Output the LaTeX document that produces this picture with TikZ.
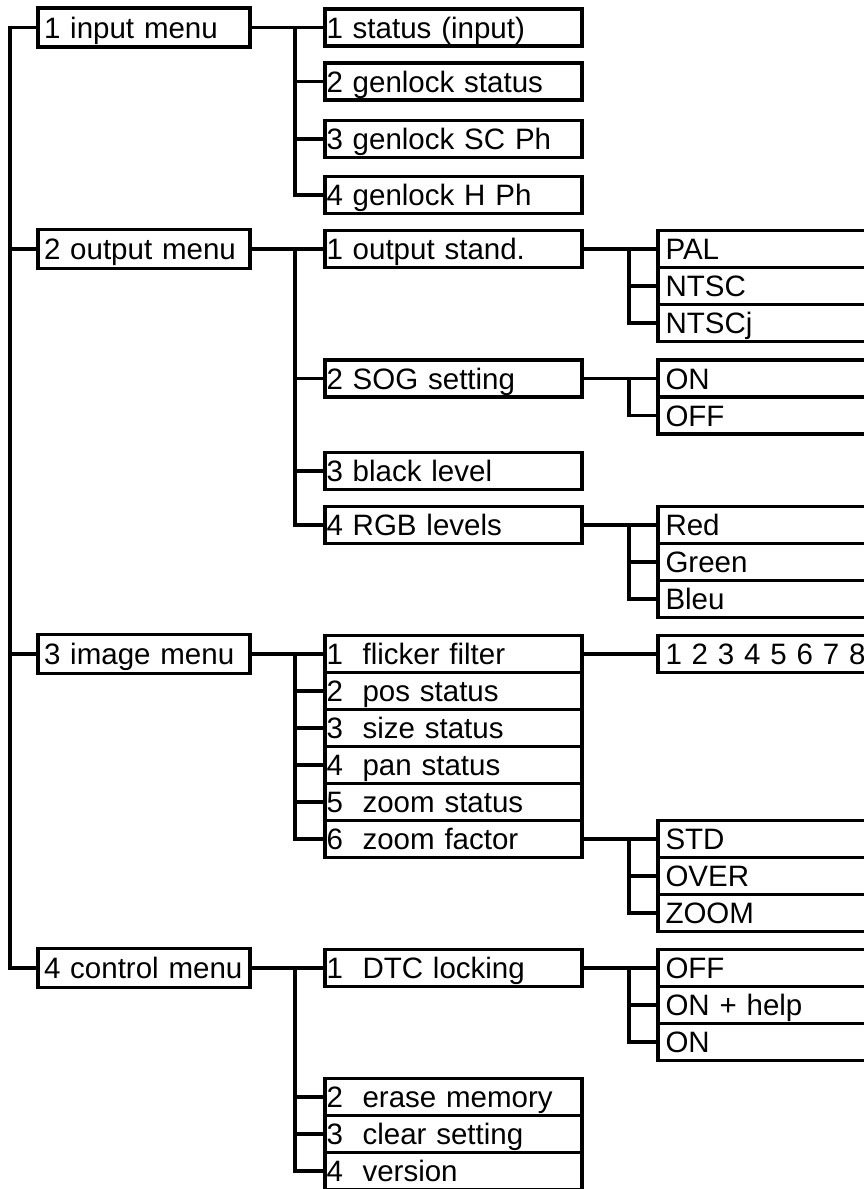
\documentclass[tikz,border=0pt]{standalone}
\usepackage{fontspec}
\setmainfont{Liberation Sans}
\usetikzlibrary{positioning}

\begin{document}
\begin{tikzpicture}[
  x=1pt, y=-1pt,
  line width=3.3pt,
  every node/.style={draw, outer sep=0pt, anchor=west, align=left,
    font=\fontsize{29.5}{32}\selectfont, text height=21pt, text depth=0pt,
    minimum height=37pt},
  menu/.style={minimum height=39pt, inner xsep=6pt, text width=200pt},
  item/.style={inner xsep=1.5pt, text width=254pt},
  opt/.style={inner xsep=7.5pt, text width=235pt},
  node distance=0pt
]
\useasboundingbox (0,0) rectangle (864,1189);
\clip (0,0) rectangle (864,1189);

\coordinate (t0) at (10,0);
\coordinate (t1) at (295,0);
\coordinate (t2) at (629,0);

% main menus
\node[menu] (inp)  at (38,27.5) {1 input~menu};
\node[menu] (outp) at (38,249)  {2 output~menu};
\node[menu] (img)  at (38,654)  {3 image~menu};
\node[menu] (ctl)  at (38,968)  {4 control~menu};

% input menu
\node[item] (in1) at (325,27.5) {1 status (input)};
\node[item] (in2) at (325,81.5) {2 genlock status};
\node[item] (in3) at (325,139)  {3 genlock SC Ph};
\node[item] (in4) at (325,195)  {4 genlock H Ph};

% output menu
\node[item] (out1) at (325,249) {1 output stand.};
\node[item] (out2) at (325,378.5) {2 SOG setting};
\node[item] (out3) at (325,471) {3 black level};
\node[item] (out4) at (325,525) {4 RGB levels};

\node[opt] (pal) at (658,249) {PAL};
\node[opt, below=of pal] (ntsc) {NTSC};
\node[opt, below=of ntsc] (ntscj) {NTSCj};
\node[opt] (son) at (658,378.5) {ON};
\node[opt, below=of son] (soff) {OFF};
\node[opt] (red) at (658,525) {Red};
\node[opt, below=of red] (green) {Green};
\node[opt, below=of green] (bleu) {Bleu};

% image menu
\node[item] (im1) at (325,654) {1~~flicker filter};
\node[item, below=of im1] (im2) {2~~pos status};
\node[item, below=of im2] (im3) {3~~size status};
\node[item, below=of im3] (im4) {4~~pan status};
\node[item, below=of im4] (im5) {5~~zoom status};
\node[item, below=of im5] (im6) {6~~zoom factor};

\node[opt] (ff) at (658,654) {1 2 3 4 5 6 7 8};
\node[opt] (std) at (658,839) {STD};
\node[opt, below=of std] (over) {OVER};
\node[opt, below=of over] (zoom) {ZOOM};

% control menu
\node[item] (ct1) at (325,968) {1~~DTC locking};
\node[item] (ct2) at (325,1097) {2~~erase memory};
\node[item, below=of ct2] (ct3) {3~~clear setting};
\node[item, below=of ct3] (ct4) {4~~version};

\node[opt] (doff) at (658,968) {OFF};
\node[opt, below=of doff] (donh) {ON + help};
\node[opt, below=of donh] (don) {ON};

% trunk
\draw (inp.west) -| (t0 |- ctl.west) -- (ctl.west);
\foreach \n in {outp,img}
  \draw (t0 |- \n.west) -- (\n.west);

% second level
\draw (inp.east) -- (in1.west);
\draw (t1 |- in1.west) |- (in4.west);
\foreach \n in {in2,in3}
  \draw (t1 |- \n.west) -- (\n.west);

\draw (outp.east) -- (out1.west);
\draw (t1 |- out1.west) |- (out4.west);
\foreach \n in {out2,out3}
  \draw (t1 |- \n.west) -- (\n.west);

\draw (img.east) -- (im1.west);
\draw (t1 |- im1.west) |- (im6.west);
\foreach \n in {im2,im3,im4,im5}
  \draw (t1 |- \n.west) -- (\n.west);

\draw (ctl.east) -- (ct1.west);
\draw (t1 |- ct1.west) |- (ct4.west);
\foreach \n in {ct2,ct3}
  \draw (t1 |- \n.west) -- (\n.west);

% third level
\draw (out1.east) -- (pal.west);
\draw (t2 |- pal.west) |- (ntscj.west);
\draw (t2 |- ntsc.west) -- (ntsc.west);

\draw (out2.east) -- (son.west);
\draw (t2 |- son.west) |- (soff.west);

\draw (out4.east) -- (red.west);
\draw (t2 |- red.west) |- (bleu.west);
\draw (t2 |- green.west) -- (green.west);

\draw (im1.east) -- (ff.west);

\draw (im6.east) -- (std.west);
\draw (t2 |- std.west) |- (zoom.west);
\draw (t2 |- over.west) -- (over.west);

\draw (ct1.east) -- (doff.west);
\draw (t2 |- doff.west) |- (don.west);
\draw (t2 |- donh.west) -- (donh.west);
\end{tikzpicture}
\end{document}
